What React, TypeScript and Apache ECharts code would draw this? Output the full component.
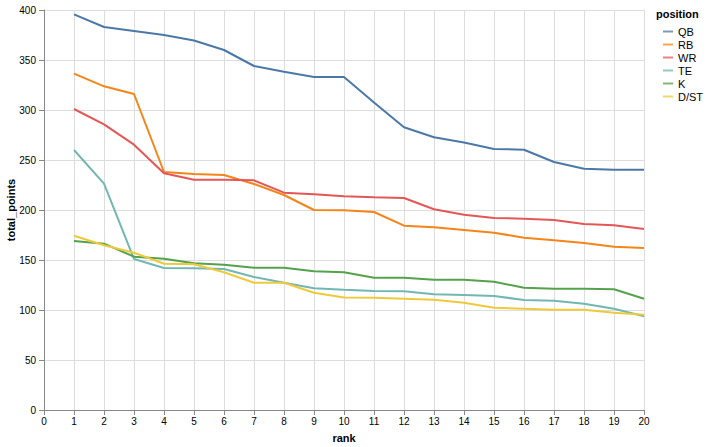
import React, { useEffect, useRef } from "react";
import * as echarts from "echarts";

const ranks = [1, 2, 3, 4, 5, 6, 7, 8, 9, 10, 11, 12, 13, 14, 15, 16, 17, 18, 19, 20];
const positions = ["QB", "RB", "WR", "TE", "K", "D/ST"];
const colors = ["#4c78a8", "#f58518", "#e45756", "#72b7b2", "#54a24b", "#eeca3b"];

const qb = [395.7, 383, 379, 375, 369.5, 360, 344, 338.3, 333, 333, 307.5, 282.7, 272.7, 267.5, 261, 260.3, 248, 241.3, 240.3, 240.3];
const rb = [336.3, 323.7, 316, 238, 236, 235, 226, 215, 200, 199.7, 198, 184.3, 182.7, 180, 177.3, 172.3, 169.7, 167, 163.3, 162];
const wr = [301, 285.7, 265.3, 236.7, 230.3, 230.3, 229.7, 217.3, 215.7, 213.7, 212.8, 212, 200.7, 195.3, 192, 191.3, 190, 186, 184.7, 181];
const te = [260, 226.3, 151, 142, 141.7, 141, 133, 127.3, 121.7, 120.2, 119, 118.7, 115.7, 115, 114, 110, 109.3, 106.3, 101.3, 93.7];
const k = [169, 166.3, 153.3, 151.3, 146.7, 145.3, 142.3, 142.3, 138.7, 137.7, 132.3, 132.3, 130.3, 130.3, 128.3, 122.3, 121.3, 121.3, 120.7, 111.3];
const dst = [174.3, 164.7, 157.3, 146.3, 145.7, 137.7, 127.3, 127.3, 117.3, 112.4, 112.3, 111.3, 110.3, 107.3, 102.3, 101.3, 100.3, 100.3, 97.3, 95.3];

const seriesValues = [qb, rb, wr, te, k, dst];

const FONT = "Liberation Sans, Arial, Helvetica, sans-serif";

export default function App() {
  const ref = useRef<HTMLDivElement>(null);
  useEffect(() => {
    if (!ref.current) return;
    const chart = echarts.init(ref.current, undefined, { renderer: "svg" });
    chart.setOption({
      animation: false,
      textStyle: { fontFamily: FONT },
      grid: { left: 44, right: 66, top: 10, bottom: 37, containLabel: false, outerBoundsMode: "none" },
      legend: {
        orient: "vertical",
        left: 663,
        top: 25,
        padding: 0,
        icon: "rect",
        itemWidth: 10,
        itemHeight: 2,
        itemGap: 0,
        textStyle: { fontSize: 11, color: "#000", fontFamily: FONT, lineHeight: 13 },
        data: positions,
        inactiveColor: "#ccc",
      },
      graphic: [
        {
          type: "text",
          left: 656,
          top: 8,
          style: { text: "position", font: "bold 11px " + FONT, fill: "#000" },
        },
      ],
      xAxis: {
        type: "value",
        min: 0,
        max: 20,
        interval: 1,
        name: "rank",
        nameLocation: "middle",
        nameGap: 22,
        nameMoveOverlap: false,
        nameTextStyle: { fontWeight: "bold", fontSize: 11, color: "#000", fontFamily: FONT },
        axisLine: { show: true, onZero: false, lineStyle: { color: "#888", width: 1 } },
        axisTick: { show: true, length: 5, lineStyle: { color: "#888" } },
        axisLabel: { fontSize: 10, color: "#000", margin: 6, fontFamily: FONT },
        splitLine: { show: true, lineStyle: { color: "#ddd", width: 1 } },
      },
      yAxis: {
        type: "value",
        min: 0,
        max: 400,
        interval: 50,
        name: "total_points",
        nameLocation: "middle",
        nameRotate: 90,
        nameGap: 28,
        nameMoveOverlap: false,
        nameTextStyle: { fontWeight: "bold", fontSize: 11, color: "#000", fontFamily: FONT },
        axisLine: { show: true, lineStyle: { color: "#888", width: 1 } },
        axisTick: { show: true, length: 5, lineStyle: { color: "#888" } },
        axisLabel: { fontSize: 10, color: "#000", margin: 8, fontFamily: FONT },
        splitLine: { show: true, lineStyle: { color: "#ddd", width: 1 } },
      },
      series: positions.map((p, i) => ({
        name: p,
        type: "line",
        data: ranks.map((r, j) => [r, seriesValues[i][j]]),
        showSymbol: false,
        symbol: "none",
        lineStyle: { width: 2, color: colors[i] },
        itemStyle: { color: colors[i], opacity: 0.75 },
      })),
    });
    return () => chart.dispose();
  }, []);
  return <div ref={ref} style={{ width: 710, height: 447, position: "absolute", left: 0, top: 0 }} />;
}
